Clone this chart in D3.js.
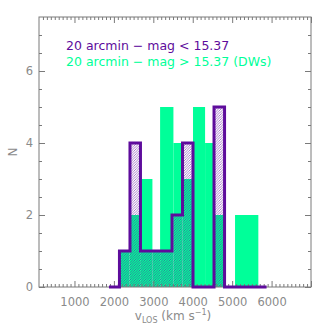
<!DOCTYPE html>
<html>
<head>
<meta charset="utf-8">
<script src="https://cdn.jsdelivr.net/npm/d3@7"></script>
<style>
  body { margin: 0; background: #fff; }
  svg text { font-family: 'DejaVu Sans', sans-serif; }
</style>
</head>
<body>
<svg id="chart" width="327" height="327"></svg>
<script>
// bright galaxies (mag < 15.37), regular bins
const brightEdges = [1875, 2141, 2408, 2674, 2941, 3208, 3474, 3741, 4007, 4274, 4540, 4807, 5073, 5340, 5607, 5873];
const brightCounts = [0, 1, 4, 1, 1, 1, 2, 4, 0, 0, 5, 0, 0, 0, 0];

// dwarfs (mag > 15.37), filled bars
const dwLo = [2141, 2394, 2665, 2977, 3172, 3510, 3741, 4007, 4313, 4540, 5073];
const dwHi = [2394, 2665, 2977, 3172, 3510, 3741, 4007, 4313, 4540, 4807, 5664];
const dwCounts = [1, 2, 3, 1, 5, 4, 3, 5, 4, 2, 2];

const xMajor = [1000, 2000, 3000, 4000, 5000, 6000, 7000];
const xLabels = [1000, 2000, 3000, 4000, 5000, 6000];
const yMajor = [0, 2, 4, 6];
const yLabels = [0, 2, 4, 6];

const purple = '#5e0c9c';
const green = '#00ff99';
const axisGrey = '#7a7a7a';
const textGrey = '#8a8a8a';

const svg = d3.select('#chart');
const mLeft = 39, mRight = 311, mTop = 17, mBottom = 287;

const x = d3.scaleLinear().domain([100, 7000]).range([mLeft, mRight]);
const y = d3.scaleLinear().domain([0, 7.5]).range([mBottom, mTop]);

const defs = svg.append('defs');
defs.append('pattern')
  .attr('id', 'hatch')
  .attr('patternUnits', 'userSpaceOnUse')
  .attr('width', 2.5)
  .attr('height', 2.5)
  .append('path')
  .attr('d', 'M-1,1 l2,-2 M0,2.5 l2.5,-2.5 M1.5,3.5 l2,-2')
  .attr('stroke', purple)
  .attr('stroke-opacity', 0.75)
  .attr('stroke-width', 0.7);

// dwarf bars
svg.append('g')
  .selectAll('rect')
  .data(dwCounts)
  .enter()
  .append('rect')
  .attr('x', (d, i) => x(dwLo[i]))
  .attr('width', (d, i) => x(dwHi[i]) - x(dwLo[i]))
  .attr('y', d => y(d))
  .attr('height', d => y(0) - y(d))
  .attr('fill', green);

// step outline for bright histogram
const pts = [[brightEdges[0], 0]];
brightCounts.forEach((c, i) => {
  pts.push([brightEdges[i], c]);
  pts.push([brightEdges[i + 1], c]);
});
pts.push([brightEdges[brightEdges.length - 1], 0]);
const line = d3.line().x(d => x(d[0])).y(d => y(d[1]));

svg.append('path')
  .attr('d', line(pts) + 'Z')
  .attr('fill', 'url(#hatch)')
  .attr('stroke', 'none');

// axes
const gx = svg.append('g').attr('class', 'axes');
const minorX = d3.range(200, 7000, 100).filter(v => v % 1000 !== 0);
const minorY = [0.5, 1, 1.5, 2.5, 3, 3.5, 4.5, 5, 5.5, 6.5, 7];

function styleAxis(g) {
  g.select('.domain').remove();
  g.selectAll('line').attr('stroke', axisGrey);
  g.selectAll('text')
    .attr('fill', textGrey)
    .style('font-size', '11.5px')
    .style('font-family', "'DejaVu Sans', sans-serif");
}

gx.append('g').attr('transform', `translate(0,${mBottom})`)
  .call(d3.axisBottom(x).tickValues(xMajor).tickSize(-6).tickPadding(10.5)
    .tickFormat(d => (xLabels.includes(d) ? d : '')))
  .call(styleAxis);
gx.append('g').attr('transform', `translate(0,${mBottom})`)
  .call(d3.axisBottom(x).tickValues(minorX).tickSize(-3).tickFormat(''))
  .call(styleAxis);
gx.append('g').attr('transform', `translate(0,${mTop})`)
  .call(d3.axisTop(x).tickValues(xMajor).tickSize(-6).tickFormat(''))
  .call(styleAxis);
gx.append('g').attr('transform', `translate(0,${mTop})`)
  .call(d3.axisTop(x).tickValues(minorX).tickSize(-3).tickFormat(''))
  .call(styleAxis);

gx.append('g').attr('transform', `translate(${mLeft},0)`)
  .call(d3.axisLeft(y).tickValues(yMajor).tickSize(-6).tickPadding(6)
    .tickFormat(d => (yLabels.includes(d) ? d : '')))
  .call(styleAxis);
gx.append('g').attr('transform', `translate(${mLeft},0)`)
  .call(d3.axisLeft(y).tickValues(minorY).tickSize(-3).tickFormat(''))
  .call(styleAxis);
gx.append('g').attr('transform', `translate(${mRight},0)`)
  .call(d3.axisRight(y).tickValues(yMajor).tickSize(-6).tickFormat(''))
  .call(styleAxis);
gx.append('g').attr('transform', `translate(${mRight},0)`)
  .call(d3.axisRight(y).tickValues(minorY).tickSize(-3).tickFormat(''))
  .call(styleAxis);

svg.append('rect')
  .attr('x', mLeft)
  .attr('y', mTop)
  .attr('width', mRight - mLeft)
  .attr('height', mBottom - mTop)
  .attr('fill', 'none')
  .attr('stroke', axisGrey)
  .attr('stroke-width', 1);

// purple outline on top
svg.append('path')
  .attr('d', line(pts))
  .attr('fill', 'none')
  .attr('stroke', purple)
  .attr('stroke-width', 3)
  .attr('stroke-linejoin', 'miter');

// legend
svg.append('text')
  .attr('x', 66)
  .attr('y', 50)
  .attr('fill', purple)
  .style('font-size', '12.5px')
  .text('20 arcmin \u2212 mag < 15.37');
svg.append('text')
  .attr('x', 66)
  .attr('y', 66)
  .attr('fill', green)
  .style('font-size', '12.5px')
  .text('20 arcmin \u2212 mag > 15.37 (DWs)');

// axis titles
svg.append('text')
  .attr('transform', 'translate(17,152) rotate(-90)')
  .attr('text-anchor', 'middle')
  .attr('fill', textGrey)
  .style('font-size', '12px')
  .text('N');

const xt = svg.append('text')
  .attr('x', 173)
  .attr('y', 320)
  .attr('text-anchor', 'middle')
  .attr('fill', textGrey)
  .style('font-size', '12px');
xt.append('tspan').text('v');
xt.append('tspan').attr('dy', 3).style('font-size', '8px').text('LOS');
xt.append('tspan').attr('dy', -3).text(' (km s');
xt.append('tspan').attr('dy', -5).style('font-size', '8px').text('\u22121');
xt.append('tspan').attr('dy', 5).text(')');
</script>
</body>
</html>
